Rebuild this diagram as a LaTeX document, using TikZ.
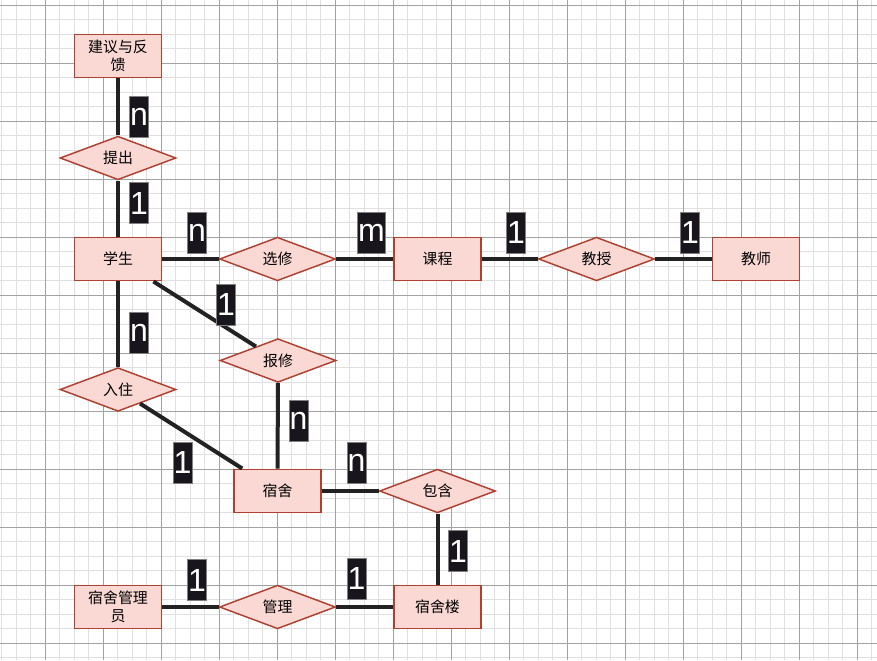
\documentclass[tikz,border=0pt]{standalone}
\usepackage{fontspec}
\setmainfont{Liberation Sans}
\newfontfamily\cjk{Noto Sans CJK SC}
\usetikzlibrary{shapes.geometric}
\definecolor{erfill}{HTML}{FAD9D5}
\definecolor{erdraw}{HTML}{AE4132}
\definecolor{edgecol}{HTML}{222222}
\definecolor{cardbg}{HTML}{18151D}
\definecolor{gridmin}{HTML}{E0E0E0}
\definecolor{gridmaj}{HTML}{A2A2A2}

\begin{document}
\begin{tikzpicture}[x=0.75pt,y=-0.75pt]
    \tikzstyle{entity}=[rectangle,draw=erdraw,fill=erfill,line width=1.1pt,minimum width=65.25pt,minimum height=32.6pt,inner sep=0pt,align=center,font=\cjk\fontsize{11.2}{13.5}\selectfont]
    \tikzstyle{relation}=[diamond,draw=erdraw,fill=erfill,line width=1.1pt,minimum width=87pt,minimum height=32.6pt,inner sep=0pt,font=\cjk\fontsize{11.2}{13.5}\selectfont]
    \tikzstyle{card}=[rectangle,draw=gray,fill=cardbg,text=white,line width=0.6pt,minimum width=13.5pt,minimum height=30.75pt,inner xsep=0.5pt,inner ysep=0pt,font=\fontsize{24}{24}\selectfont]
    \tikzstyle{connect}=[draw=edgecol,line width=3pt]

\useasboundingbox (0,0) rectangle (877,660);
% grid
\fill[white] (0,0) rectangle (877,660);
\foreach \i in {0,...,60} \draw[gridmin,line width=0.75pt] ({1.5+14.5*\i},0) -- ({1.5+14.5*\i},660);
\foreach \i in {0,...,45} \draw[gridmin,line width=0.75pt] (0,{5.3+14.5*\i}) -- (877,{5.3+14.5*\i});
\foreach \i in {0,...,14} \draw[gridmaj,line width=0.75pt] ({45+58*\i},0) -- ({45+58*\i},660);
\foreach \i in {0,...,11} \draw[gridmaj,line width=0.75pt] (0,{5.3+58*\i}) -- (877,{5.3+58*\i});

% entities and relations
\node[entity] (jianyi) at (118,56) {建议与反\\馈};
\node[relation] (tichu) at (118,158) {提出};
\node[entity] (xuesheng) at (118,259) {学生};
\node[relation] (xuanxiu) at (277.5,259) {选修};
\node[entity] (kecheng) at (437.5,259) {课程};
\node[relation] (jiaoshou) at (596.5,259) {教授};
\node[entity] (jiaoshi) at (756,259) {教师};
\node[relation] (baoxiu) at (278,360.5) {报修};
\node[relation] (ruzhu) at (118,389.5) {入住};
\node[entity] (sushe) at (277.5,491) {宿舍};
\node[relation] (baohan) at (437.5,491) {包含};
\node[entity] (sushelou) at (437.5,607) {宿舍楼};
\node[relation] (guanli) at (277.5,607) {管理};
\node[entity] (guanliyuan) at (118,607) {宿舍管理\\员};

% connectors
\draw[connect] (jianyi) -- (tichu);
\draw[connect] (tichu) -- (xuesheng);
\draw[connect] (xuesheng) -- (xuanxiu);
\draw[connect] (xuanxiu) -- (kecheng);
\draw[connect] (kecheng) -- (jiaoshou);
\draw[connect] (jiaoshou) -- (jiaoshi);
\draw[connect] (xuesheng) -- (baoxiu);
\draw[connect] (xuesheng) -- (ruzhu);
\draw[connect] (ruzhu) -- (sushe);
\draw[connect] (baoxiu) -- (sushe);
\draw[connect] (sushe) -- (baohan);
\draw[connect] (baohan) -- (sushelou);
\draw[connect] (guanliyuan) -- (guanli);
\draw[connect] (guanli) -- (sushelou);

% cardinalities
\node[card] (c1) at (139,116.5) {n};
\node[card] (c2) at (139,203) {1};
\node[card] (c3) at (197,232.5) {n};
\node[card] (c4) at (371.5,232.5) {m};
\node[card] (c5) at (226,304.5) {1};
\node[card] (c6) at (516,232.5) {1};
\node[card] (c7) at (690,232.5) {1};
\node[card] (c8) at (139,333) {n};
\node[card] (c9) at (298.5,420.5) {n};
\node[card] (c10) at (182.5,462.5) {1};
\node[card] (c11) at (356.5,462.5) {n};
\node[card] (c12) at (458,551) {1};
\node[card] (c13) at (356.5,578.5) {1};
\node[card] (c14) at (197,580) {1};
\end{tikzpicture}
\end{document}
